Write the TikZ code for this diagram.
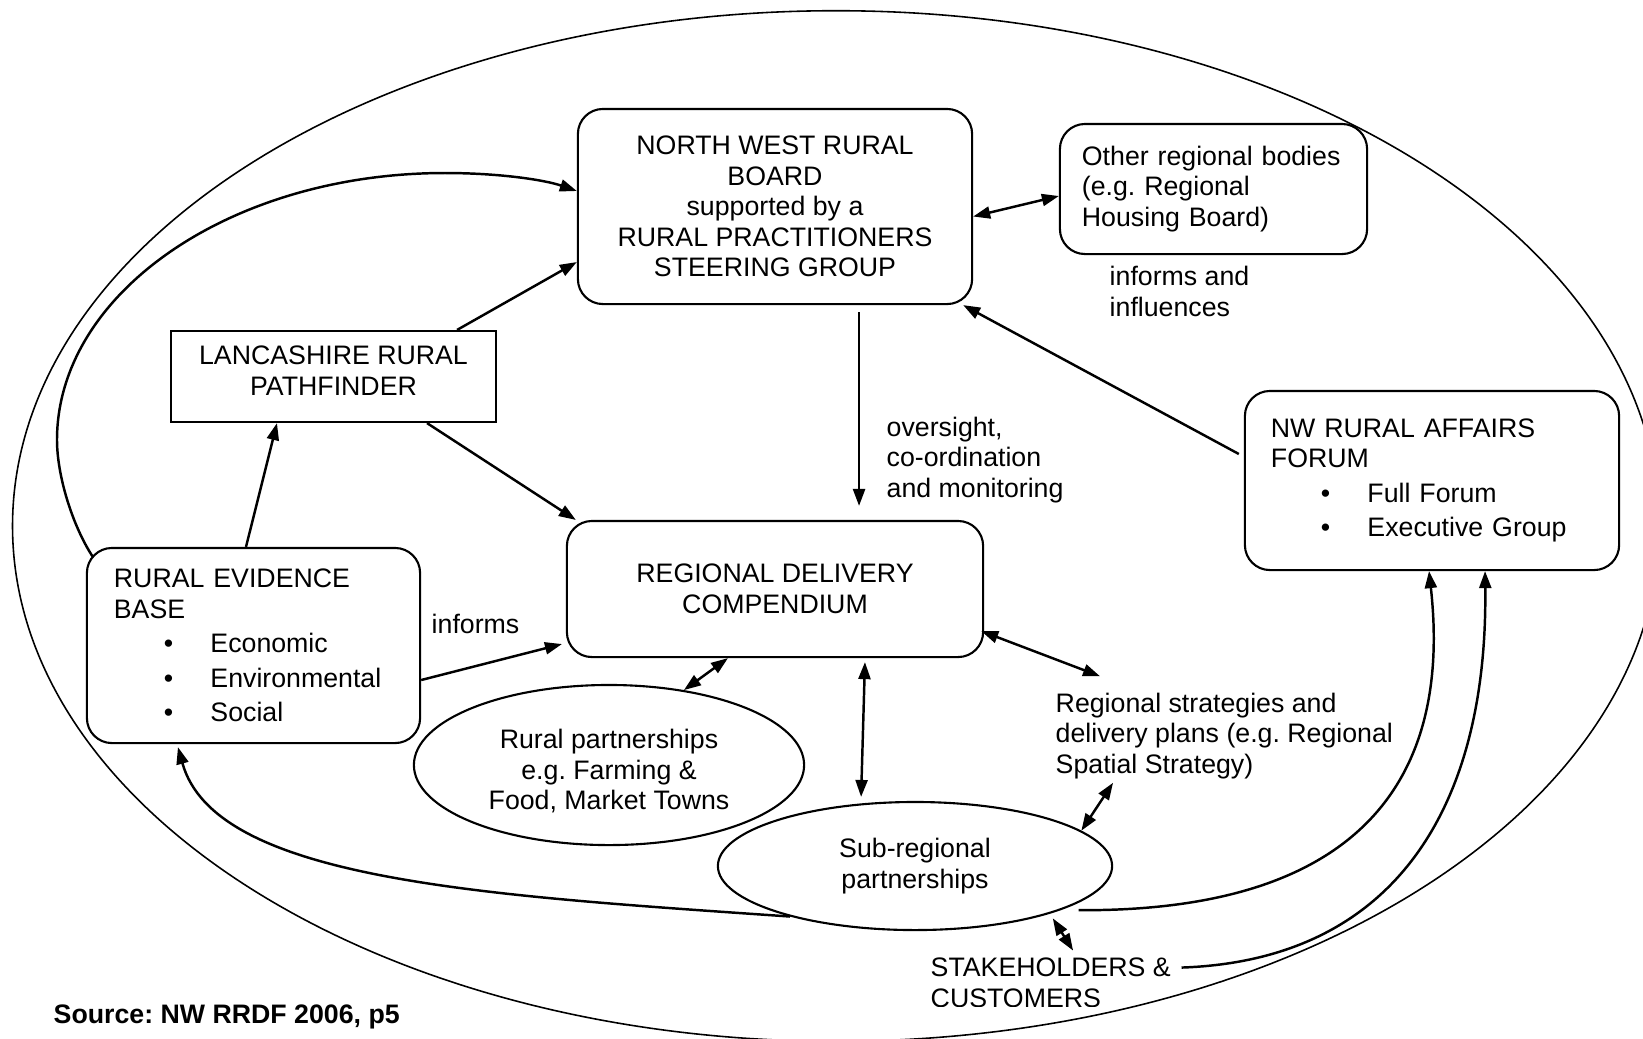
\documentclass[tikz,border=0pt]{standalone}
\usepackage{fontspec}
\setmainfont{Liberation Sans}
\usetikzlibrary{arrows.meta,shapes.geometric,calc}
\newcommand{\itembul}{\makebox[0.965cm][l]{\hspace{0.50cm}\textbullet}}
\frenchspacing

\begin{document}
\begin{tikzpicture}[x=0.01cm, y=-0.01cm,
    font=\fontsize{7.6}{8.7}\selectfont,
    rbox/.style={draw, line width=0.6pt, rounded corners=0.25cm, inner sep=0pt},
    sbox/.style={draw, line width=0.6pt, inner sep=0pt},
    ebox/.style={draw, ellipse, line width=0.6pt, inner sep=0pt, align=center},
    lbl/.style={inner sep=0pt, anchor=west, align=left},
    arr/.style={line width=0.7pt, -{Triangle[length=0.17cm, width=0.12cm]}},
    darr/.style={line width=0.7pt, {Triangle[length=0.17cm, width=0.12cm]}-{Triangle[length=0.17cm, width=0.12cm]}}]
    \useasboundingbox (0,0) rectangle (1643,1038);

    % outer ellipse (runs off the right and bottom edges)
    \draw[line width=0.45pt] (836,526) ellipse [x radius=8.23cm, y radius=5.15cm];

    % Boxes
    \node[rbox, minimum width=3.94cm, minimum height=1.95cm, align=center] (nwrb) at (775,206.5) {NORTH WEST RURAL\\BOARD\\supported by a\\RURAL PRACTITIONERS\\STEERING GROUP};
    \node[rbox, minimum width=3.07cm, minimum height=1.30cm, inner xsep=0.22cm, text width=2.63cm, align=left] (other) at (1213.5,189) {Other regional bodies\\(e.g. Regional\\Housing Board)};
    \node[sbox, minimum width=3.25cm, minimum height=0.91cm, align=center] (lancs) at (333.5,376.5) {LANCASHIRE RURAL\\PATHFINDER\rule[-0.12cm]{0pt}{0pt}};
    \node[rbox, minimum width=3.74cm, minimum height=1.79cm, inner xsep=0.26cm, text width=3.22cm, align=left] (forum) at (1432,480.5) {NW RURAL AFFAIRS\\FORUM\\[1.1pt]\itembul Full Forum\\[1.1pt]\itembul Executive Group};
    \node[rbox, minimum width=3.33cm, minimum height=1.95cm, inner xsep=0.27cm, text width=2.79cm, align=left] (reb) at (253.5,645.5) {RURAL EVIDENCE\\BASE\\[1.1pt]\itembul Economic\\[1.1pt]\itembul Environmental\\[1.1pt]\itembul Social};
    \node[rbox, minimum width=4.16cm, minimum height=1.36cm, align=center] (rdc) at (775,589) {REGIONAL DELIVERY\\COMPENDIUM};
    \node[ebox, minimum width=3.90cm, minimum height=1.60cm] (rp) at (609,765) {\rule{0pt}{0.315cm}Rural partnerships\\e.g. Farming \&\\Food, Market Towns};
    \node[ebox, minimum width=3.94cm, minimum height=1.28cm] (srp) at (915,866) {Sub-regional\\partnerships};

    % Labels
    \node[lbl] (infl) at (1109,291.5) {informs and\\influences};
    \node[lbl] (overs) at (886,460) {oversight,\\co-ordination\\and monitoring};
    \node[lbl] (inf) at (431,624) {informs};
    \node[lbl] (strat) at (1055,736) {Regional strategies and\\delivery plans (e.g. Regional\\Spatial Strategy)};
    \begin{scope}
        \clip (900,940) rectangle (1200,1006);
        \node[lbl] (stake) at (930,983) {STAKEHOLDERS \&\\CUSTOMERS};
    \end{scope}
    \node[lbl, font=\fontsize{7.6}{8.7}\selectfont\bfseries] (src) at (53,1017) {Source: NW RRDF 2006, p5};

    % Straight connectors
    \draw[arr, shorten <=0.07cm, shorten >=0.14cm] ([xshift=0.84cm]nwrb.south) -- ([xshift=0.84cm]rdc.north);
    \draw[darr] ([yshift=-0.1cm]nwrb.east) -- ([yshift=-0.07cm]other.west);
    \draw[arr] ([shift={(-0.05cm,0.265cm)}]forum.west) -- ([xshift=-0.1cm]nwrb.south east);
    \draw[arr] ([xshift=1.235cm]lancs.north) -- ([yshift=-0.555cm]nwrb.west);
    \draw[arr] ([xshift=0.935cm]lancs.south) -- ([xshift=0.1cm]rdc.north west);
    \draw[arr] ([xshift=-0.075cm]reb.north) -- ([xshift=-0.565cm]lancs.south);
    \draw[arr, shorten >=0.04cm] ([yshift=-0.345cm]reb.east) -- ([yshift=-0.54cm]rdc.west);
    \draw[darr] ([xshift=-0.47cm]rdc.south) -- (rp.45);
    \draw[darr, shorten <=0.04cm, shorten >=0.04cm] ([xshift=0.9cm]rdc.south) -- ([xshift=-0.54cm]srp.north);
    \draw[darr] ([shift={(-0.03cm,-0.42cm)}]rdc.east) -- ([shift={(0.45cm,0.16cm)}]strat.north west);
    \draw[darr] ([shift={(0.58cm,-0.03cm)}]strat.south west) -- (srp.12);
    \draw[darr] ([shift={(0.05cm,-0.04cm)}]srp.-20) -- ([shift={(1.43cm,0.07cm)}]stake.north west);

    % Curved connectors
    \draw[arr] ([shift={(0.07cm,-0.1cm)}]reb.north west) .. controls (72,525) and (57,475) .. (57,440)
        .. controls (57,293) and (231,173) .. (445,173)
        .. controls (500,173) and (545,180) .. ([yshift=0.155cm]nwrb.west);
    \draw[arr] (srp.202) .. controls (480,895) and (215,880) .. ([shift={(-0.755cm,-0.03cm)}]reb.south);
    \draw[arr] ([shift={(0.1cm,-0.03cm)}]srp.-15) .. controls (1380,912) and (1450,760) .. ([xshift=-0.03cm]forum.south);
    \draw[arr] ([shift={(0.1cm,-0.1cm)}]stake.north east) .. controls (1400,960) and (1488,800) .. ([xshift=0.53cm]forum.south);
\end{tikzpicture}
\end{document}
